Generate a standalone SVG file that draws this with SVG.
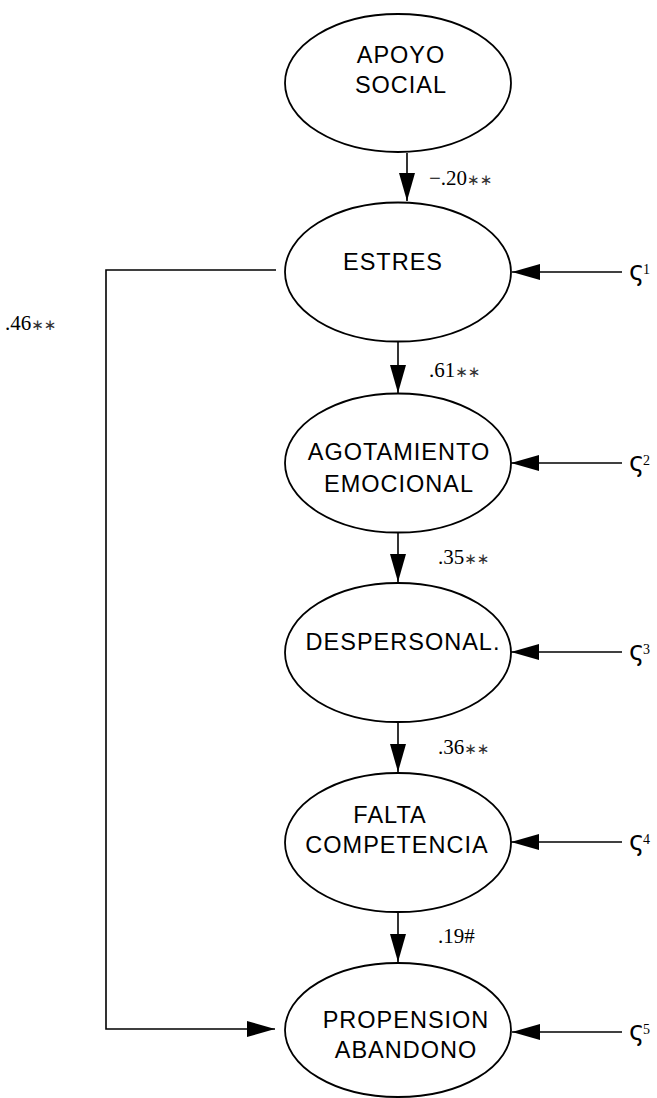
<svg xmlns="http://www.w3.org/2000/svg" width="657" height="1098" viewBox="0 0 657 1098">
<style>
.node ellipse{fill:#fff;stroke:#000;stroke-width:1.8}
.nt{font-family:"Liberation Sans",Arial,sans-serif;font-size:23.5px;letter-spacing:1px;text-anchor:middle;fill:#000}
.lbl{font-family:"Liberation Serif","Times New Roman",serif;font-size:21px;fill:#000}
.st{font-family:"DejaVu Sans",sans-serif;font-size:15px;fill:#333}
.conn line,.conn path{stroke:#000;stroke-width:1.6;fill:none}
.z{font-family:"DejaVu Sans",sans-serif;font-size:26px;fill:#000}
.zi{font-family:"Liberation Serif",serif;font-size:14px;fill:#000}
</style>
<defs>
<marker id="ah" markerUnits="userSpaceOnUse" markerWidth="28" markerHeight="16" refX="28" refY="8" orient="auto">
<path d="M0,0 L28,8 L0,16 z" fill="#000"/>
</marker>
</defs>
<rect width="657" height="1098" fill="#fff"/>
<g class="conn">
<line x1="407" y1="153" x2="407" y2="201" marker-end="url(#ah)"/>
<line x1="398" y1="342" x2="398" y2="393" marker-end="url(#ah)"/>
<line x1="398" y1="532" x2="398" y2="582" marker-end="url(#ah)"/>
<line x1="398" y1="722" x2="398" y2="772" marker-end="url(#ah)"/>
<line x1="398" y1="912" x2="398" y2="962" marker-end="url(#ah)"/>
<path d="M276,270 H106 V1029 H275" marker-end="url(#ah)"/>
<line x1="622" y1="272" x2="512" y2="272" marker-end="url(#ah)"/>
<line x1="622" y1="463" x2="511" y2="463" marker-end="url(#ah)"/>
<line x1="622" y1="652" x2="511" y2="652" marker-end="url(#ah)"/>
<line x1="622" y1="842" x2="511" y2="842" marker-end="url(#ah)"/>
<line x1="622" y1="1032" x2="512" y2="1032" marker-end="url(#ah)"/>
</g>
<g id="labels">
<text class="lbl" x="429" y="185">−.20<tspan class="st">∗∗</tspan></text>
<text class="lbl" x="429" y="377">.61<tspan class="st">∗∗</tspan></text>
<text class="lbl" x="438" y="564">.35<tspan class="st">∗∗</tspan></text>
<text class="lbl" x="438" y="754">.36<tspan class="st">∗∗</tspan></text>
<text class="lbl" x="438" y="943">.19#</text>
<text class="lbl" x="5" y="330">.46<tspan class="st">∗∗</tspan></text>
</g>
<g id="node-apoyo" class="node">
<ellipse cx="398" cy="83" rx="113" ry="69"/>
<text class="nt" x="401" y="63">APOYO</text>
<text class="nt" x="401" y="93">SOCIAL</text>
</g>
<g id="node-estres" class="node">
<ellipse cx="398" cy="272" rx="113" ry="69.5"/>
<text class="nt" x="393" y="270">ESTRES</text>
</g>
<g id="node-agotamiento" class="node">
<ellipse cx="398" cy="463" rx="113" ry="69.5"/>
<text class="nt" x="399" y="460">AGOTAMIENTO</text>
<text class="nt" x="399" y="492">EMOCIONAL</text>
</g>
<g id="node-despersonal" class="node">
<ellipse cx="398" cy="652.5" rx="113" ry="69.5"/>
<text class="nt" x="403" y="650">DESPERSONAL.</text>
</g>
<g id="node-falta" class="node">
<ellipse cx="398" cy="842.5" rx="113" ry="69.5"/>
<text class="nt" x="390" y="823">FALTA</text>
<text class="nt" x="397" y="853">COMPETENCIA</text>
</g>
<g id="node-propension" class="node">
<ellipse cx="398" cy="1030" rx="113" ry="67"/>
<text class="nt" x="406" y="1028">PROPENSION</text>
<text class="nt" x="406" y="1058">ABANDONO</text>
</g>
<g id="zeta1"><text class="z" x="629" y="280">ς</text><text class="zi" x="643" y="274">1</text></g>
<g id="zeta2"><text class="z" x="629" y="471">ς</text><text class="zi" x="643" y="465">2</text></g>
<g id="zeta3"><text class="z" x="629" y="660">ς</text><text class="zi" x="643" y="654">3</text></g>
<g id="zeta4"><text class="z" x="629" y="850">ς</text><text class="zi" x="643" y="844">4</text></g>
<g id="zeta5"><text class="z" x="629" y="1040">ς</text><text class="zi" x="643" y="1034">5</text></g>
</svg>
